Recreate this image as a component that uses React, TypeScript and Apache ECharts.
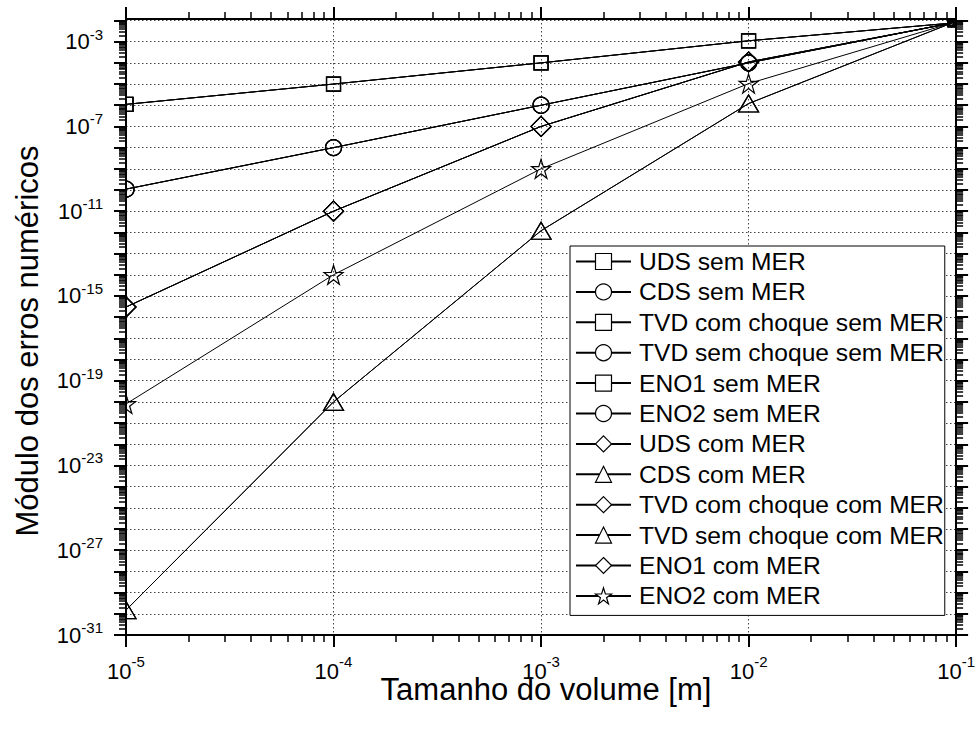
import React, { useEffect, useRef } from 'react';
import * as echarts from 'echarts';

const FONT = '"Liberation Sans", Arial, Helvetica, sans-serif';

// Tamanho do volume [m]
const cellSizes = [1e-5, 1e-4, 1e-3, 1e-2, 0.095];

// Módulo dos erros numéricos (grouped by marker shape)
const errSquares = [1.1e-6, 1e-5, 1e-4, 1.1e-3, 7.5e-3];
const errCircles = [1.1e-10, 1e-8, 1e-6, 1e-4, 7.5e-3];
const errDiamonds = [3e-16, 1e-11, 1e-7, 1.1e-4, 7.5e-3];
const errTriangles = [1.5e-30, 1e-20, 1.2e-12, 1.2e-6, 7.5e-3];
const errStars = [8e-21, 1e-14, 1e-9, 1.05e-5, 7.5e-3];

const seriesNames = [
  'UDS sem MER',
  'CDS sem MER',
  'TVD com choque sem MER',
  'TVD sem choque sem MER',
  'ENO1 sem MER',
  'ENO2 sem MER',
  'UDS com MER',
  'CDS com MER',
  'TVD com choque com MER',
  'TVD sem choque com MER',
  'ENO1 com MER',
  'ENO2 com MER',
];
const seriesErrors = [
  errSquares, errCircles, errSquares, errCircles, errSquares, errCircles,
  errDiamonds, errTriangles, errDiamonds, errTriangles, errDiamonds, errStars,
];
const seriesMarkers = [
  'square', 'circle', 'square', 'circle', 'square', 'circle',
  'diamond', 'triangle', 'diamond', 'triangle', 'diamond', 'star',
];

// tick labels (exponents of 10)
const xLabelDecades = [-5, -4, -3, -2, -1];
const yLabelDecades = [-31, -27, -23, -19, -15, -11, -7, -3];

const X_MIN = -5;
const X_MAX = -1;
const Y_MIN = -31;
const Y_MAX = -1.93;

const GRID_LEFT = 126;

const STAR =
  'path://M50,2 L61.2,36.5 L97.6,36.5 L68.2,57.9 L79.4,92.5 L50,71.1 L20.6,92.5 L31.8,57.9 L2.4,36.5 L38.8,36.5 Z';

const markerDefs: Record<string, { symbol: string; size: number | number[] }> = {
  square: { symbol: 'rect', size: 14 },
  circle: { symbol: 'circle', size: 16 },
  diamond: { symbol: 'diamond', size: [20, 20] },
  triangle: { symbol: 'triangle', size: [20, 17] },
  star: { symbol: STAR, size: 19 },
};
const CORNER_MARKER_SIZE = 7;

function majorTicks(lo: number, hi: number) {
  const out: number[] = [];
  for (let n = Math.ceil(lo); n <= hi + 1e-9; n++) out.push(n);
  return out;
}
function minorTicks(lo: number, hi: number) {
  const out: number[] = [];
  for (let n = Math.floor(lo); n < hi; n++) {
    for (let k = 2; k <= 9; k++) {
      const v = n + Math.log10(k);
      if (v > lo && v < hi) out.push(v);
    }
  }
  return out;
}

const supFormatter = (allowed: number[]) => (v: number) => {
  const r = Math.round(v);
  if (Math.abs(v - r) > 1e-6 || allowed.indexOf(r) < 0) return '';
  return `{b|10}{s|${r}}`;
};

// superscript: line height drives how far the exponent is raised
const richX = {
  b: { fontSize: 22, fontFamily: FONT, color: '#000', lineHeight: 28.5, verticalAlign: 'bottom' },
  s: { fontSize: 15, fontFamily: FONT, color: '#000', lineHeight: 28.5, verticalAlign: 'top' },
};
const richY = {
  b: { fontSize: 22, fontFamily: FONT, color: '#000', lineHeight: 30, verticalAlign: 'bottom', padding: [0, 0, 4, 0] },
  s: { fontSize: 15, fontFamily: FONT, color: '#000', lineHeight: 30, verticalAlign: 'top' },
};

const frameLine = { show: true, onZero: false, lineStyle: { color: '#000', width: 2 } };
const gridDots = { show: true, lineStyle: { color: '#444', width: 1, type: [1.5, 2.5] } };
const AXIS_Z = 10;

function buildOption() {
  const xMajor = majorTicks(X_MIN, X_MAX);
  const xMinor = minorTicks(X_MIN, X_MAX);
  const yMajor = majorTicks(Y_MIN, Y_MAX);
  const yMinor = minorTicks(Y_MIN, Y_MAX);

  const majorTick = (vals: number[]) => ({
    show: true, length: 12, customValues: vals, lineStyle: { color: '#000', width: 2 },
  });
  const minorTick = (vals: number[]) => ({
    show: true, length: 7, customValues: vals, lineStyle: { color: '#000', width: 1.5 },
  });

  const xBase = { type: 'value', min: X_MIN, max: X_MAX, interval: 1, gridIndex: 0, z: AXIS_Z };
  const yBase = { type: 'value', min: Y_MIN, max: Y_MAX, interval: 1, gridIndex: 0, z: AXIS_Z };
  const hidden = { axisLine: { show: false }, axisLabel: { show: false } };

  const xAxis = [
    {
      ...xBase, position: 'bottom', axisLine: frameLine, axisTick: majorTick(xMajor),
      axisLabel: {
        show: true, margin: 19, customValues: xLabelDecades,
        formatter: supFormatter(xLabelDecades), rich: richX, hideOverlap: false,
      },
      splitLine: { show: false },
    },
    { ...xBase, ...hidden, position: 'bottom', axisTick: minorTick(xMinor), splitLine: { show: false } },
    { ...xBase, position: 'top', axisLine: frameLine, axisTick: majorTick(xMajor), axisLabel: { show: false }, splitLine: { show: false } },
    { ...xBase, ...hidden, position: 'top', axisTick: minorTick(xMinor), splitLine: { show: false } },
    // dotted grid, drawn beneath the data
    { ...xBase, ...hidden, z: 0, position: 'bottom', axisTick: { show: false, customValues: xMajor }, splitLine: gridDots },
  ];

  const yAxis = [
    {
      ...yBase, position: 'left', axisLine: frameLine, axisTick: majorTick(yMajor),
      axisLabel: {
        show: true, margin: 23, customValues: yLabelDecades,
        formatter: supFormatter(yLabelDecades), rich: richY, hideOverlap: false,
      },
      splitLine: { show: false },
    },
    { ...yBase, ...hidden, position: 'left', axisTick: minorTick(yMinor), splitLine: { show: false } },
    { ...yBase, position: 'right', axisLine: frameLine, axisTick: majorTick(yMajor), axisLabel: { show: false }, splitLine: { show: false } },
    { ...yBase, ...hidden, position: 'right', axisTick: minorTick(yMinor), splitLine: { show: false } },
    { ...yBase, ...hidden, z: 0, position: 'left', axisTick: { show: false, customValues: yMajor }, splitLine: gridDots },
  ];

  const series = seriesNames.map((name, i) => {
    const m = markerDefs[seriesMarkers[i]];
    const last = cellSizes.length - 1;
    return {
      name,
      type: 'line',
      xAxisIndex: 0,
      yAxisIndex: 0,
      data: cellSizes.map((h, j) => {
        const value = [Math.log10(h), Math.log10(seriesErrors[i][j])];
        return j === last ? { value, symbolSize: CORNER_MARKER_SIZE } : { value };
      }),
      symbol: m.symbol,
      symbolSize: m.size,
      showAllSymbol: true,
      lineStyle: { color: '#000', width: 1 },
      itemStyle: { color: 'rgba(255,255,255,0)', borderColor: '#000', borderWidth: 1.2 },
      emphasis: { disabled: true },
      silent: true,
      z: 3,
    };
  });

  return {
    animation: false,
    backgroundColor: '#fff',
    textStyle: { fontFamily: FONT },
    grid: { left: GRID_LEFT, right: 21, top: 19, bottom: 103, containLabel: false },
    xAxis,
    yAxis,
    legend: {
      show: true,
      orient: 'vertical',
      left: 570,
      top: 246,
      padding: [3, 1, 7, 5],
      itemWidth: 55,
      itemHeight: 20,
      itemGap: 5.4,
      selectedMode: false,
      backgroundColor: '#fff',
      borderColor: '#000',
      borderWidth: 1,
      borderRadius: 0,
      textStyle: { fontSize: 24.6, fontFamily: FONT, color: '#000', padding: [0, 0, 0, 3] },
      itemStyle: { color: '#fff', borderColor: '#000', borderWidth: 1.2 },
      data: seriesNames,
      z: 20,
    },
    graphic: [
      // markers are cut at the plot frame, as in the original figure
      {
        type: 'rect',
        z: 5,
        silent: true,
        shape: { x: 0, y: 0, width: GRID_LEFT - 1, height: 738 },
        style: { fill: '#fff' },
      },
      {
        type: 'text',
        z: 20,
        x: 546,
        y: 689,
        style: {
          text: 'Tamanho do volume [m]',
          fontSize: 31,
          lineHeight: 18,
          fontFamily: FONT,
          fill: '#000',
          align: 'center',
          verticalAlign: 'middle',
          textAlign: 'center',
          textVerticalAlign: 'middle',
        },
      },
      {
        type: 'text',
        z: 20,
        x: 27.5,
        y: 341,
        rotation: Math.PI / 2,
        style: {
          text: 'Módulo dos erros numéricos',
          fontSize: 31,
          fontFamily: FONT,
          fill: '#000',
          align: 'center',
          verticalAlign: 'middle',
          textAlign: 'center',
          textVerticalAlign: 'middle',
        },
      },
    ],
    series,
  };
}

export default function App() {
  const ref = useRef<HTMLDivElement>(null);
  useEffect(() => {
    if (!ref.current) return;
    const chart = echarts.init(ref.current, null, { renderer: 'svg' });
    chart.setOption(buildOption() as any);
    return () => chart.dispose();
  }, []);
  return (
    <div
      ref={ref}
      style={{ position: 'fixed', left: 0, top: 0, width: 978, height: 738, background: '#fff' }}
    />
  );
}
